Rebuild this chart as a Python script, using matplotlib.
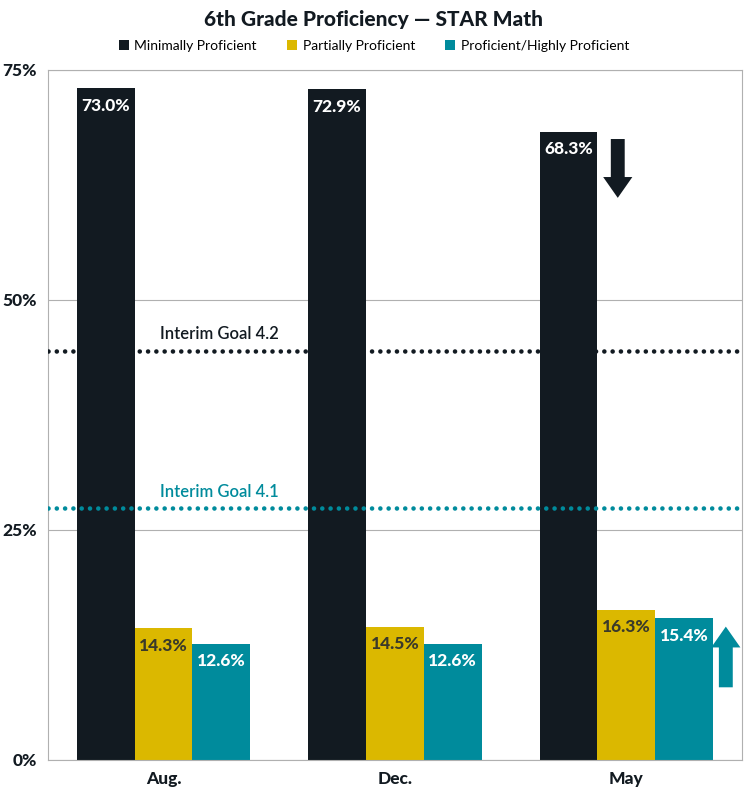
import numpy as np
import matplotlib.pyplot as plt

# data
months = ['Aug.', 'Dec.', 'May']
series = ['Minimally Proficient', 'Partially Proficient', 'Proficient/Highly Proficient']
minimal = [73.0, 72.9, 68.3]
partial = [14.3, 14.5, 16.3]
proficient = [12.6, 12.6, 15.4]
goal_42 = 44.5
goal_41 = 27.4
yticks = [0, 25, 50, 75]

colors = ['#121a21', '#dbb800', '#008b9c']
text_colors = ['white', '#3a3a2a', 'white']

plt.rcParams['font.family'] = ['Lato', 'DejaVu Sans']

fig = plt.figure(figsize=(7.48, 8), dpi=100)
ax = fig.add_axes([0.064, 0.05, 0.928, 0.8625])

x = np.arange(len(months))
w = 0.25
for i, (vals, c, tc) in enumerate(zip([minimal, partial, proficient], colors, text_colors)):
    pos = x + (i - 1) * w
    ax.bar(pos, vals, width=w, color=c, label=series[i], zorder=2)
    for px, v in zip(pos, vals):
        ax.text(px, v - 1.0, f'{v:.1f}%', ha='center', va='top', color=tc,
                fontsize=12.5, fontweight='black', zorder=4)

# goal lines
ax.axhline(goal_42, color='#121a21', lw=3.3, ls=(0, (0.01, 1.8)), dash_capstyle='round', zorder=3)
ax.axhline(goal_41, color='#008b9c', lw=3.3, ls=(0, (0.01, 1.8)), dash_capstyle='round', zorder=3)
ax.text(0.24, goal_42 + 0.9, 'Interim Goal 4.2', ha='center', va='bottom', color='#121a21',
        fontsize=12, fontweight='semibold')
ax.text(0.24, goal_41 + 0.9, 'Interim Goal 4.1', ha='center', va='bottom', color='#008b9c',
        fontsize=12, fontweight='semibold')

# arrows
arrow = 'simple,head_width=1.05,head_length=0.75,tail_width=0.5'
ax.annotate('', xy=(1.963, 60.8), xytext=(1.963, 67.8),
            arrowprops=dict(arrowstyle=arrow, mutation_scale=20, color='#121a21', lw=0), zorder=4)
ax.annotate('', xy=(2.43, 14.8), xytext=(2.43, 7.6),
            arrowprops=dict(arrowstyle=arrow, mutation_scale=20, color='#008b9c', lw=0), zorder=4)

ax.set_xlim(-0.5, 2.5)
ax.set_ylim(0, 75)
ax.set_yticks(yticks)
ax.set_yticklabels([f'{t}%' for t in yticks], fontsize=12.5, fontweight='black', color='#121a21')
ax.set_xticks(x)
ax.set_xticklabels(months, fontsize=12.5, fontweight='black', color='#121a21')
ax.tick_params(length=0, pad=8)
ax.grid(axis='y', color='#b0b0b0', lw=0.8, zorder=0)
for s in ax.spines.values():
    s.set_color('#b0b0b0')
    s.set_linewidth(0.8)

fig.suptitle('6th Grade Proficiency — STAR Math', y=0.987, fontsize=15, fontweight='black', color='#121a21')
fig.legend(loc='upper center', bbox_to_anchor=(0.5, 0.966), ncol=3, frameon=False,
           fontsize=10, handlelength=0.7, handleheight=0.7, handletextpad=0.4, columnspacing=2.2)

fig.savefig('out.png', dpi=100)
